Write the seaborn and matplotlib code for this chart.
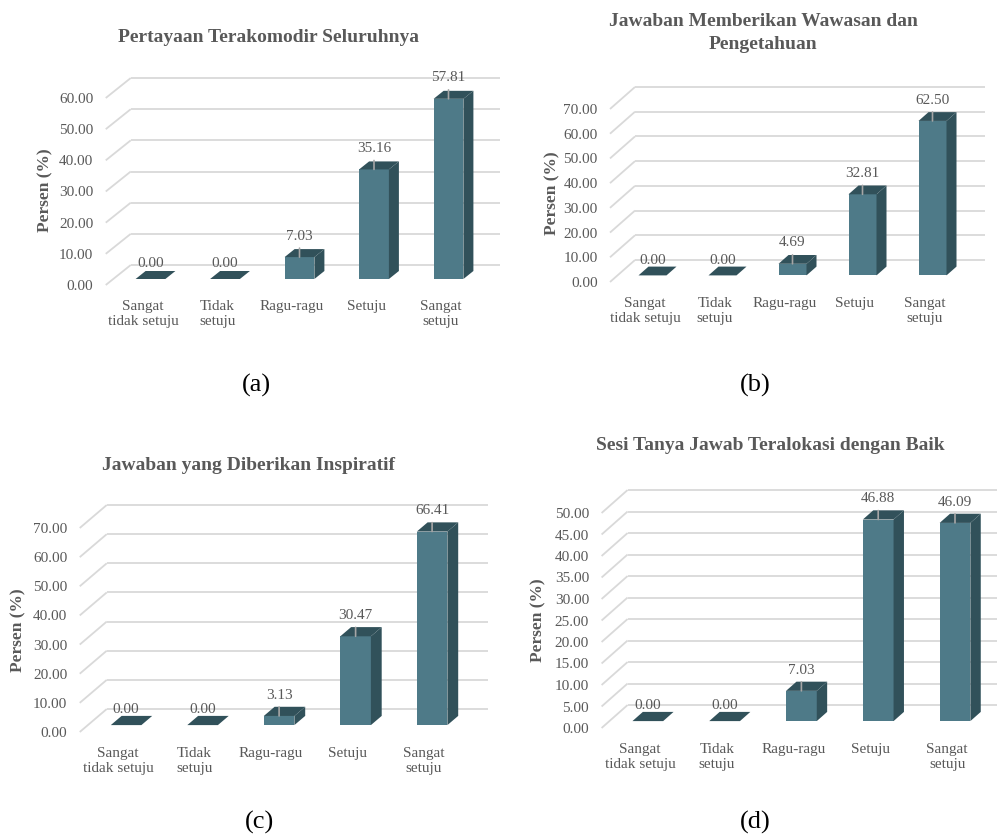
import matplotlib
matplotlib.use("Agg")
import matplotlib.pyplot as plt
import seaborn as sns
from matplotlib.patches import Polygon

sns.set_theme(style="white")
plt.rcParams['font.family'] = ['Liberation Serif', 'DejaVu Serif']

# ---------------- data ----------------
categories = ["Sangat\ntidak setuju", "Tidak\nsetuju", "Ragu-ragu", "Setuju", "Sangat\nsetuju"]
values_a = [0.00, 0.00, 7.03, 35.16, 57.81]
values_b = [0.00, 0.00, 4.69, 32.81, 62.50]
values_c = [0.00, 0.00, 3.13, 30.47, 66.41]
values_d = [0.00, 0.00, 7.03, 46.88, 46.09]
titles = ["Pertayaan Terakomodir Seluruhnya",
          "Jawaban Memberikan Wawasan dan\nPengetahuan",
          "Jawaban yang Diberikan Inspiratif",
          "Sesi Tanya Jawab Teralokasi dengan Baik"]
ticks_a = [0, 10, 20, 30, 40, 50, 60]
ticks_b = [0, 10, 20, 30, 40, 50, 60, 70]
ticks_c = [0, 10, 20, 30, 40, 50, 60, 70]
ticks_d = [0, 5, 10, 15, 20, 25, 30, 35, 40, 45, 50]
panel_tags = ["(a)", "(b)", "(c)", "(d)"]
ylabel_text = "Persen (%)"

# ---------------- style ----------------
FRONT = "#4E7A88"
DARK = "#31515A"
GRID = "#D9D9D9"
TEXT = "#595959"
LEADER = "#A6A6A6"

W, H = 999, 840
fig = plt.figure(figsize=(W / 100, H / 100), dpi=100)

# layout in pixels: category-0 x, category spacing, front-zero y, px per unit,
# depth offset (px), right end of walls, title pos, ylabel pos, tag pos
layouts = [
    dict(cx0=143, sx=74.5, py0=285, sy=187 / 60, ddx=25, ddy=20, right=500,
         title=(268, 38), ylab=(45, 190), tag=(256, 385)),
    dict(cx0=645, sx=70.0, py0=282, sy=173 / 70, ddx=25, ddy=22, right=985,
         title=(763, 33), ylab=(552, 193), tag=(755, 385)),
    dict(cx0=118, sx=76.5, py0=732, sy=204 / 70, ddx=27, ddy=23, right=488,
         title=(248, 465), ylab=(18, 630), tag=(260, 822)),
    dict(cx0=640, sx=76.8, py0=728, sy=215 / 50, ddx=26, ddy=23, right=997,
         title=(770, 445), ylab=(538, 620), tag=(755, 822)),
]
all_values = [values_a, values_b, values_c, values_d]
all_ticks = [ticks_a, ticks_b, ticks_c, ticks_d]

for vals, ticks, lay, title, tag in zip(all_values, all_ticks, layouts, titles, panel_tags):
    Dx = lay["ddx"] / lay["sx"]          # depth in category units
    Dy = lay["ddy"] / lay["sy"]          # depth in value units
    xr = (lay["right"] - lay["cx0"]) / lay["sx"]
    ytop = ticks[-1] + Dy + 0.5
    left_px = lay["cx0"] - 0.5 * lay["sx"]
    bottom_px = lay["py0"]
    top_px = lay["py0"] - ytop * lay["sy"]
    ax = fig.add_axes([left_px / W, 1 - bottom_px / H,
                       (lay["right"] - left_px) / W, (bottom_px - top_px) / H])

    # slanted 3D-style gridlines (floor diagonals + back wall)
    for t in ticks:
        ax.plot([-0.5, -0.5 + Dx], [t, t + Dy], color=GRID, lw=1.3, zorder=1,
                clip_on=False, solid_capstyle="butt")
        ax.plot([-0.5 + Dx, xr], [t + Dy, t + Dy], color=GRID, lw=1.3, zorder=1,
                clip_on=False, solid_capstyle="butt")

    sns.barplot(x=categories, y=vals, color=FRONT, saturation=1, width=0.4,
                ax=ax, zorder=3, linewidth=0)

    ox, oy = 0.3 * Dx, 0.3 * Dy
    bdx, bdy = 0.4 * Dx, 0.4 * Dy
    for p, v in zip(ax.patches[:len(vals)], vals):
        x0 = p.get_x() + ox
        y0 = p.get_y() + oy
        w = p.get_width()
        h = p.get_height()
        p.set_x(x0)
        p.set_y(y0)
        p.set_clip_on(False)
        side = Polygon([(x0 + w, y0), (x0 + w + bdx, y0 + bdy),
                        (x0 + w + bdx, y0 + h + bdy), (x0 + w, y0 + h)],
                       closed=True, facecolor=DARK, edgecolor="none", zorder=3,
                       clip_on=False)
        top = Polygon([(x0, y0 + h), (x0 + w, y0 + h),
                       (x0 + w + bdx, y0 + h + bdy), (x0 + bdx, y0 + h + bdy)],
                      closed=True, facecolor=DARK, edgecolor="none", zorder=3,
                      clip_on=False)
        ax.add_patch(side)
        ax.add_patch(top)
        xc = x0 + w / 2
        if v > 0:
            ax.annotate(f"{v:.2f}", xy=(xc, y0 + h), xytext=(0, 15),
                        textcoords="offset points", ha="center", va="center",
                        fontsize=11, color=TEXT, zorder=5,
                        arrowprops=dict(arrowstyle="-", color=LEADER, lw=1.2,
                                        shrinkA=1.5, shrinkB=0))
        else:
            ax.annotate(f"{v:.2f}", xy=(xc, y0), xytext=(0, 11),
                        textcoords="offset points", ha="center", va="center",
                        fontsize=11, color=TEXT, zorder=5)

    ax.set_xlim(-0.5, xr)
    ax.set_ylim(0, ytop)
    ax.set_xticks(range(len(categories)))
    ax.set_xticklabels(categories, linespacing=1.2)
    ax.set_yticks(ticks)
    ax.set_yticklabels([f"{t:.2f}" for t in ticks])
    ax.tick_params(axis="both", length=0, labelsize=11, colors=TEXT, pad=9)
    ax.tick_params(axis="x", pad=11)
    ax.set_xlabel("")
    ax.set_ylabel("")
    for s in ax.spines.values():
        s.set_visible(False)
    ax.patch.set_alpha(0)

    fig.text(lay["title"][0] / W, 1 - lay["title"][1] / H, title, ha="center",
             va="center", fontsize=14, fontweight="bold", color=TEXT,
             linespacing=1.45)
    fig.text(lay["ylab"][0] / W, 1 - lay["ylab"][1] / H, ylabel_text,
             rotation=90, ha="center", va="center", fontsize=12.5,
             fontweight="bold", color=TEXT)
    fig.text(lay["tag"][0] / W, 1 - lay["tag"][1] / H, tag, ha="center",
             va="center", fontsize=19, color="black")

fig.savefig("out.png", dpi=100)
